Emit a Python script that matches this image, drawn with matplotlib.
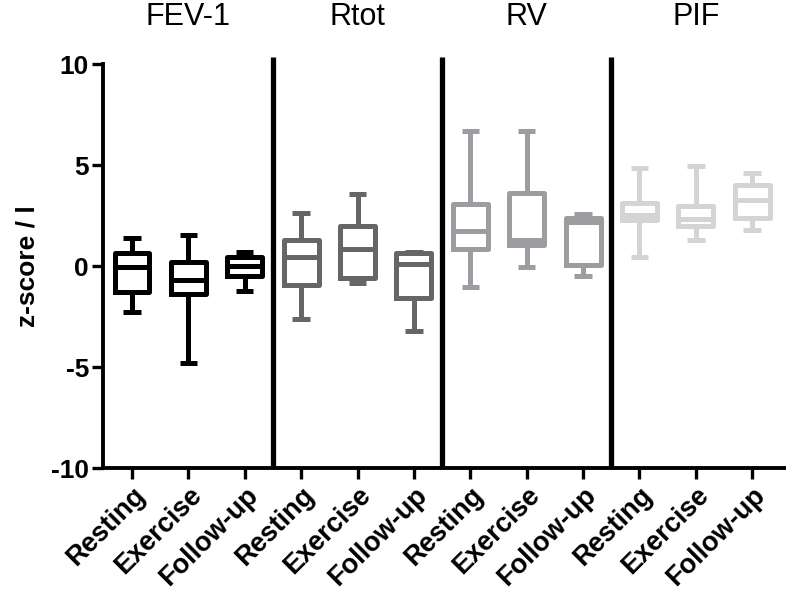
import matplotlib
matplotlib.use('Agg')
import matplotlib.pyplot as plt

plt.rcParams['font.family'] = ['Liberation Sans', 'DejaVu Sans']

OUTPUT = 'out.png'

GROUPS = ['FEV-1', 'Rtot', 'RV', 'PIF']
PHASES = ['Resting', 'Exercise', 'Follow-up']
COLORS = ['#000000', '#666666', '#9d9da1', '#d4d4d4']

# box statistics, one entry per box (group-major, phase-minor)
WHISLO = [-2.26, -4.80, -1.22, -2.64, -0.86, -3.22, -1.02, -0.03, -0.48, 0.43, 1.29, 1.78]
Q1 = [-1.27, -1.40, -0.50, -0.94, -0.61, -1.60, 0.83, 1.04, 0.05, 2.26, 1.96, 2.36]
MEDIAN = [-0.03, -0.69, -0.01, 0.43, 0.83, 0.10, 1.73, 1.30, 2.16, 2.52, 2.33, 3.27]
Q3 = [0.63, 0.18, 0.43, 1.29, 2.00, 0.64, 3.07, 3.60, 2.36, 3.12, 2.95, 4.03]
WHISHI = [1.40, 1.52, 0.71, 2.61, 3.56, 0.68, 6.68, 6.68, 2.56, 4.84, 4.97, 4.59]

YTICKS = [-10, -5, 0, 5, 10]


def main():
    fig = plt.figure(figsize=(7.86, 6.09), dpi=100)
    ax = fig.add_axes([0.131, 0.2315, 0.869, 0.6634])

    lw = 3.6
    n = len(PHASES)
    for g, (group, color) in enumerate(zip(GROUPS, COLORS)):
        stats = []
        for p in range(n):
            i = g * n + p
            stats.append(dict(whislo=WHISLO[i], q1=Q1[i], med=MEDIAN[i],
                              q3=Q3[i], whishi=WHISHI[i], fliers=[]))
        positions = [g * n + p + 1 for p in range(n)]
        line = dict(color=color, linewidth=lw, solid_capstyle='butt')
        ax.bxp(stats, positions=positions, widths=0.62, showfliers=False,
               boxprops=dict(color=color, linewidth=lw, solid_joinstyle='round'),
               medianprops=line, whiskerprops=line, capprops=line,
               manage_ticks=False)
        ax.text(g * n + (n + 1) / 2, 1.097, group, transform=ax.get_xaxis_transform(),
                ha='center', va='baseline', fontsize=22)
        if g > 0:
            ax.plot([g * n + 0.5] * 2, [-10, 10.35], color='black', lw=3.8,
                    clip_on=False, solid_capstyle='butt')

    ax.set_xlim(0.485, 12.6)
    ax.set_ylim(-10, 10)
    ax.set_yticks(YTICKS)
    ax.set_yticklabels([str(t) for t in YTICKS], fontsize=19, fontweight='bold')
    ax.set_xticks(range(1, len(GROUPS) * n + 1))
    ax.set_xticklabels(PHASES * len(GROUPS), rotation=45, ha='right',
                       va='top', rotation_mode='anchor', fontsize=19.5,
                       fontweight='bold')
    ax.set_ylabel('z-score / l', fontsize=19, fontweight='bold', labelpad=8)

    for side in ['top', 'right']:
        ax.spines[side].set_visible(False)
    for side in ['left', 'bottom']:
        ax.spines[side].set_linewidth(2.8)
    ax.tick_params(axis='both', direction='out', length=8, width=2.4, pad=2)

    fig.savefig(OUTPUT, dpi=100)


if __name__ == '__main__':
    main()
